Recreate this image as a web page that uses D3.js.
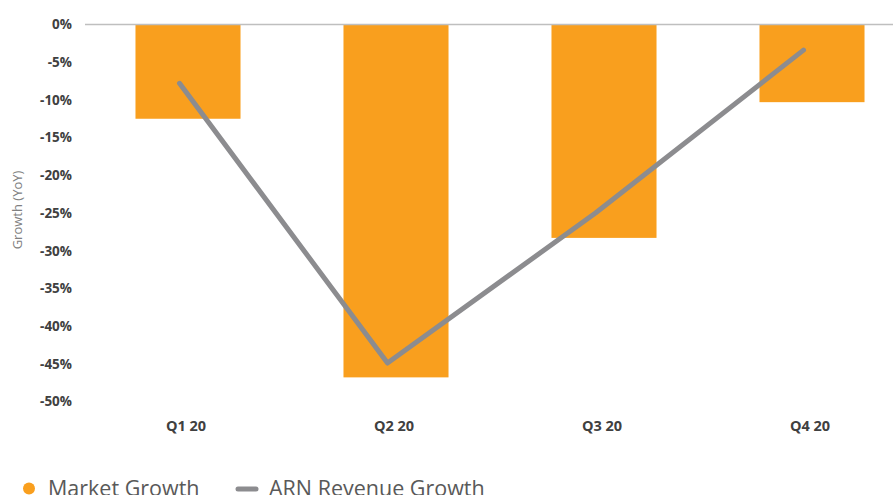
<!DOCTYPE html>
<html lang="en">
<head>
    <meta charset="UTF-8">
    <title>Growth (YoY)</title>
    <script src="https://cdn.jsdelivr.net/npm/d3@7"></script>
    <style>
        * { margin: 0; }
        body { background: #fff; overflow: hidden; }
        svg { display: block; font-family: "Open Sans", sans-serif; }
    </style>
</head>
<body>
    <div id="chart"></div>
    <script>
        // data
        const quarters = ['Q1 20', 'Q2 20', 'Q3 20', 'Q4 20'];
        const marketGrowth = [-12.5, -46.8, -28.3, -10.3];
        const arnGrowth = [-7.8, -44.9, -25.0, -3.4];
        const yTicks = [0, -5, -10, -15, -20, -25, -30, -35, -40, -45, -50];

        const W = 893, H = 495;
        const svg = d3.select('#chart').append('svg')
            .attr('width', W).attr('height', H);

        // plot area runs past the right edge, as in the original crop
        const x = d3.scaleBand().domain(quarters)
            .range([84, 916])
            .paddingInner(0.495).paddingOuter(0.2475);
        const y = d3.scaleLinear().domain([0, -50]).range([24.5, 401.5]);

        // y axis labels
        const yAxis = svg.append('g')
            .attr('transform', 'translate(72,0)')
            .call(d3.axisLeft(y).tickValues(yTicks).tickSize(0).tickPadding(0)
                .tickFormat(d => d + '%'));
        yAxis.select('.domain').remove();
        yAxis.selectAll('text')
            .attr('font-size', 13.5).attr('font-weight', 700)
            .attr('fill', '#404040').attr('font-family', '"Open Sans", sans-serif');

        svg.append('text')
            .attr('transform', 'translate(22,' + 210 + ') rotate(-90)')
            .attr('text-anchor', 'middle')
            .attr('font-size', 13).attr('fill', '#808080')
            .text('Growth (YoY)');

        // bars
        svg.append('g').selectAll('rect')
            .data(marketGrowth)
            .join('rect')
            .attr('x', (d, i) => x(quarters[i]))
            .attr('y', y(0))
            .attr('width', x.bandwidth())
            .attr('height', d => y(d) - y(0))
            .attr('fill', '#F99F1E');

        // zero line
        svg.append('line')
            .attr('x1', 85).attr('x2', W)
            .attr('y1', y(0)).attr('y2', y(0))
            .attr('stroke', '#bfbfbf').attr('stroke-width', 1.5);

        // line series sits a little left of the bar centres
        const lineOffset = -8.5;
        const line = d3.line()
            .x((d, i) => x(quarters[i]) + x.bandwidth() / 2 + lineOffset)
            .y(d => y(d));
        svg.append('path')
            .datum(arnGrowth)
            .attr('d', line)
            .attr('fill', 'none')
            .attr('stroke', '#8c8c8f')
            .attr('stroke-width', 5)
            .attr('stroke-linecap', 'round')
            .attr('stroke-linejoin', 'round');

        // x axis labels
        const xAxis = svg.append('g')
            .attr('transform', 'translate(-2,' + 421 + ')')
            .call(d3.axisBottom(x).tickSize(0).tickPadding(0));
        xAxis.select('.domain').remove();
        xAxis.selectAll('text')
            .attr('dy', '0.71em')
            .attr('font-size', 14.5).attr('font-weight', 700)
            .attr('fill', '#404040').attr('font-family', '"Open Sans", sans-serif');

        // legend
        const legend = svg.append('g').attr('font-size', 21.5).attr('fill', '#595959');
        legend.append('circle').attr('cx', 29).attr('cy', 488.5).attr('r', 6).attr('fill', '#F99F1E');
        legend.append('text').attr('x', 48).attr('y', 495.5).text('Market Growth');
        legend.append('line')
            .attr('x1', 238).attr('x2', 256).attr('y1', 489).attr('y2', 489)
            .attr('stroke', '#8c8c8f').attr('stroke-width', 5).attr('stroke-linecap', 'round');
        legend.append('text').attr('x', 269).attr('y', 495.5).text('ARN Revenue Growth');
    </script>
</body>
</html>
